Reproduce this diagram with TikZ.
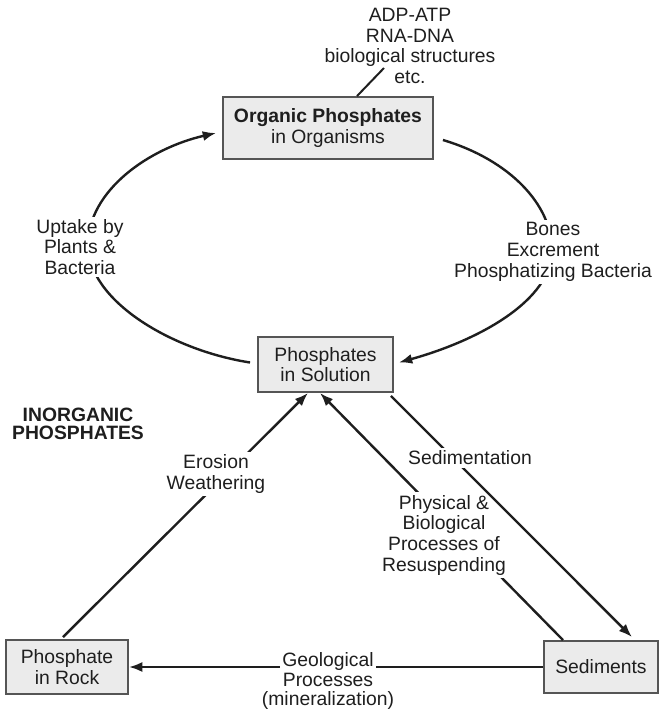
\documentclass[tikz,border=0pt]{standalone}
\usepackage{fontspec}
\setmainfont{Liberation Sans}
\usetikzlibrary{
  arrows.meta,
  positioning,
  calc
}
\definecolor{boxgray}{RGB}{235,235,235}
\definecolor{edgegray}{RGB}{85,85,85}
\definecolor{inkdark}{RGB}{30,30,30}

\begin{document}
\begin{tikzpicture}[x=0.75pt,y=-0.75pt,
  every node/.style={font=\fontsize{14.5}{15.5}\selectfont, text=inkdark, align=center},
  pbox/.style={draw=edgegray, line width=1.4pt, fill=boxgray, inner sep=0pt},
  flow/.style={draw=inkdark, line width=1.8pt, -{Latex[length=10pt,width=7.5pt]}},
  lbl/.style={fill=white, inner sep=2pt}]
  \useasboundingbox (0,0) rectangle (660,714);
  % phosphate pools
  \node[pbox, minimum width=157.5pt, minimum height=46.5pt] (org) at (328,128)
    {\textbf{Organic Phosphates}\\in Organisms};
  \node[pbox, minimum width=101.25pt, minimum height=41.25pt] (sol) at (325.5,364.5)
    {Phosphates\\in Solution};
  \node[pbox, minimum width=91.5pt, minimum height=40.5pt] (rock) at (67,667)
    {Phosphate\\in Rock};
  \node[pbox, minimum width=85.5pt, minimum height=39pt] (sed) at (601,667)
    {Sediments};
  \node (uses) at (410,46) {ADP-ATP\\RNA-DNA\\biological structures\\etc.};
  \coordinate (lead) at (384,68);
  \draw[inkdark, line width=1.5pt] ($(org.north)+(29,0)$) -- (lead);
  \node[font=\fontsize{14.5}{14}\selectfont\bfseries] (inorg) at (78,424) {INORGANIC\\PHOSPHATES};

  % organic cycle
  \draw[flow] ($(sol.west)+(-7,-2)$) .. controls (170,350) and (88,300) .. (88,245)
    .. controls (88,190) and (150,148) .. ($(org.west)+(-6,5)$);
  \draw[flow] ($(org.east)+(9,12)$) .. controls (510,160) and (552,205) .. (552,250)
    .. controls (552,300) and (480,340) .. ($(sol.east)+(5,-2)$);

  % inorganic cycle
  \draw[flow] ($(rock.north)+(-4,-2)$) -- ($(sol.south)+(-17.5,0)$);
  \draw[flow] ($(sed.north)+(-38,0)$) -- ($(sol.south)+(-5.5,0)$);
  \draw[flow] (sed.west) -- (rock.east);

  \node[lbl] (uptake) at (80,247) {Uptake by\\Plants \&\\Bacteria};
  \node[lbl] (bones) at (553,252) {Bones\\Excrement\\Phosphatizing Bacteria};
  \node[lbl] (erosion) at (216,474) {Erosion\\Weathering};
  \node[lbl] (resusp) at (444,535) {Physical \&\\Biological\\Processes of\\Resuspending};
  \node[lbl] (geo) at (328,669.5) {Geological\\Processes};
  \node[below=1pt of geo, inner sep=0pt] (geo2) {(mineralization)};

  \draw[flow] ($(sol.south east)+(-3,3)$) -- ($(sed.north)+(31,-3)$);
  \node[lbl] (sedim) at (470,458) {Sedimentation};
\end{tikzpicture}
\end{document}
